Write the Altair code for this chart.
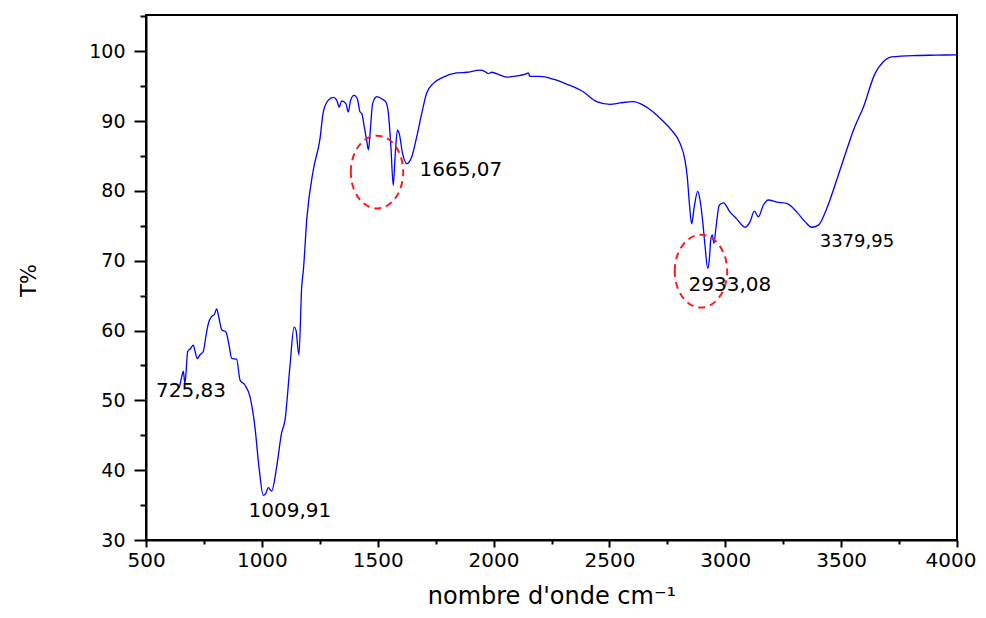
import altair as alt
import pandas as pd

# FTIR spectrum
wavenumber = [644, 655, 661, 668, 680, 692, 704, 712, 721, 735, 747, 760, 769, 783, 795, 805, 815, 827, 845, 858,
              870, 891, 906, 927, 949, 970, 989, 1006, 1016, 1028, 1042, 1064, 1085, 1100, 1121, 1139, 1147, 1160,
              1172, 1179, 1194, 1222, 1251, 1265, 1287, 1308, 1323, 1334, 1344, 1363, 1373, 1383, 1398, 1412, 1424,
              1431, 1441, 1452, 1460, 1467, 1478, 1496, 1517, 1536, 1546, 1557, 1567, 1575, 1585, 1593, 1607, 1625,
              1647, 1668, 1690, 1711, 1740, 1783, 1841, 1884, 1941, 1963, 1977, 1992, 2028, 2057, 2085, 2143, 2150,
              2157, 2200, 2258, 2315, 2387, 2445, 2503, 2546, 2603, 2646, 2689, 2725, 2768, 2805, 2826, 2836, 2845,
              2855, 2865, 2881, 2891, 2902, 2913, 2924, 2931, 2937, 2944, 2951, 2960, 2974, 2992, 3020, 3049, 3085,
              3107, 3125, 3143, 3164, 3186, 3222, 3265, 3308, 3344, 3373, 3402, 3438, 3480, 3523, 3553, 3596, 3646,
              3682, 3718, 3826, 3910, 4000]
transmittance = [51.8, 53.5, 54.2, 52.4, 57.0, 57.4, 57.9, 57.0, 56.0, 56.6, 57.0, 59.5, 61.0, 62.0, 62.3, 63.1, 61.8,
                 60.1, 59.8, 58.0, 56.0, 55.9, 52.9, 52.2, 50.5, 46.2, 40.0, 36.4, 36.6, 37.5, 37.0, 40.5, 45.3, 47.2,
                 54.8, 60.5, 60.1, 56.5, 66.3, 68.6, 76.0, 83.0, 87.5, 91.3, 93.0, 93.4, 93.0, 92.0, 92.9, 92.5, 91.3,
                 93.0, 93.7, 93.2, 91.3, 91.1, 89.4, 87.3, 85.9, 88.2, 92.5, 93.5, 93.2, 92.7, 91.1, 86.3, 80.8, 84.9,
                 88.7, 88.2, 85.4, 83.9, 84.9, 87.7, 91.1, 94.0, 95.4, 96.3, 96.9, 97.0, 97.3, 97.1, 96.8, 97.0, 96.6,
                 96.3, 96.4, 96.8, 96.9, 96.4, 96.4, 96.0, 95.3, 94.2, 92.8, 92.4, 92.6, 92.8, 92.3, 91.3, 90.2, 88.7,
                 86.8, 84.4, 82.0, 78.2, 75.3, 77.5, 79.95, 78.7, 75.8, 72.0, 68.9, 70.1, 72.9, 73.7, 72.5, 74.8,
                 77.95, 78.3, 77.0, 76.0, 74.8, 75.6, 77.1, 76.3, 77.95, 78.7, 78.4, 78.2, 77.0, 75.6, 74.8, 75.1,
                 77.5, 81.5, 85.8, 88.7, 92.0, 96.8, 98.5, 99.2, 99.4, 99.45, 99.5]

# peak labels
label_text = ["725,83", "1009,91", "1665,07", "2933,08", "3379,95"]
label_x = [694, 1121, 1859, 3020, 3568]
label_y = [51.3, 34.2, 83.0, 66.5, 72.7]
label_size = [20, 20, 20, 20, 18]

# dashed ellipses around bands
ellipse_x = [1497, 2895]
ellipse_y = [82.7, 68.5]

x_major = [500, 1000, 1500, 2000, 2500, 3000, 3500, 4000]
x_minor = [750, 1250, 1750, 2250, 2750, 3250, 3750]
y_major = [30, 40, 50, 60, 70, 80, 90, 100]
y_minor = [35, 45, 55, 65, 75, 85, 95, 105]

FONT = "DejaVu Sans"

df = pd.DataFrame({"wn": wavenumber, "T": transmittance})
labels = pd.DataFrame({"text": label_text, "wn": label_x, "T": label_y, "size": label_size})
ell = pd.DataFrame({"wn": ellipse_x, "T": ellipse_y})

xs = alt.Scale(domain=[500, 4000], nice=False, zero=False)
ys = alt.Scale(domain=[30, 105.2], nice=False, zero=False)

x_axis = alt.Axis(values=x_major, format="d", orient="bottom", grid=False, tickSize=7, tickWidth=2,
                  tickColor="black", domainColor="black", domainWidth=2, labelFont=FONT, labelFontSize=20,
                  labelColor="black", labelPadding=3, labelFlush=True, labelFlushOffset=19, labelOverlap=False,
                  title="nombre d'onde cm\u207b\u00b9", titleFont=FONT, titleFontSize=24,
                  titleFontWeight="normal", titleColor="black", titleY=63, titleBaseline="alphabetic")
y_axis = alt.Axis(values=y_major, format="d", orient="left", grid=False, tickSize=12, tickWidth=2,
                  tickColor="black", domainColor="black", domainWidth=2, labelFont=FONT, labelFontSize=19,
                  labelColor="black", labelPadding=9, labelFlush=False, labelOverlap=False,
                  title="T%", titleFont=FONT, titleFontSize=21, titleFontWeight="normal", titleColor="black",
                  titleX=-111, titleY=265, titleBaseline="alphabetic", titleAlign="center")

x_minor_axis = alt.Axis(values=x_minor, orient="bottom", grid=False, tickSize=4, tickWidth=2,
                        tickColor="black", labels=False, domain=False, title=None)
y_minor_axis = alt.Axis(values=y_minor, orient="left", grid=False, tickSize=6, tickWidth=2,
                        tickColor="black", labels=False, domain=False, title=None)

line = alt.Chart(df).mark_line(color="#0000ff", strokeWidth=1.3, interpolate="monotone").encode(
    x=alt.X("wn:Q", scale=xs, axis=x_axis),
    y=alt.Y("T:Q", scale=ys, axis=y_axis),
)

minor = alt.Chart(df).mark_point(opacity=0).encode(
    x=alt.X("wn:Q", scale=xs, axis=x_minor_axis),
    y=alt.Y("T:Q", scale=ys, axis=y_minor_axis),
)

ellipse_shape = "M -0.72 0 A 0.72 1 0 1 1 0.72 0 A 0.72 1 0 1 1 -0.72 0 Z"
ellipses = alt.Chart(ell).mark_point(shape=ellipse_shape, size=5300, filled=False, color="#ff1a1a",
                                     strokeWidth=2, strokeDash=[7, 5], opacity=1).encode(
    x=alt.X("wn:Q", scale=xs, axis=None),
    y=alt.Y("T:Q", scale=ys, axis=None),
)

texts = alt.Chart(labels).mark_text(font=FONT, color="black", align="center", baseline="middle").encode(
    x=alt.X("wn:Q", scale=xs, axis=None),
    y=alt.Y("T:Q", scale=ys, axis=None),
    text="text:N",
    size=alt.Size("size:Q", scale=None, legend=None),
)

chart = alt.layer(line, minor, ellipses, texts).resolve_axis(
    x="independent", y="independent"
).properties(
    width=811, height=525,
    autosize=alt.AutoSizeParams(type="none"),
    padding={"left": 138, "top": 7, "right": 21, "bottom": 70},
    background="white",
).configure_view(stroke="black", strokeWidth=2)

chart.save("out.html", embed_options={"renderer": "svg", "actions": False})
